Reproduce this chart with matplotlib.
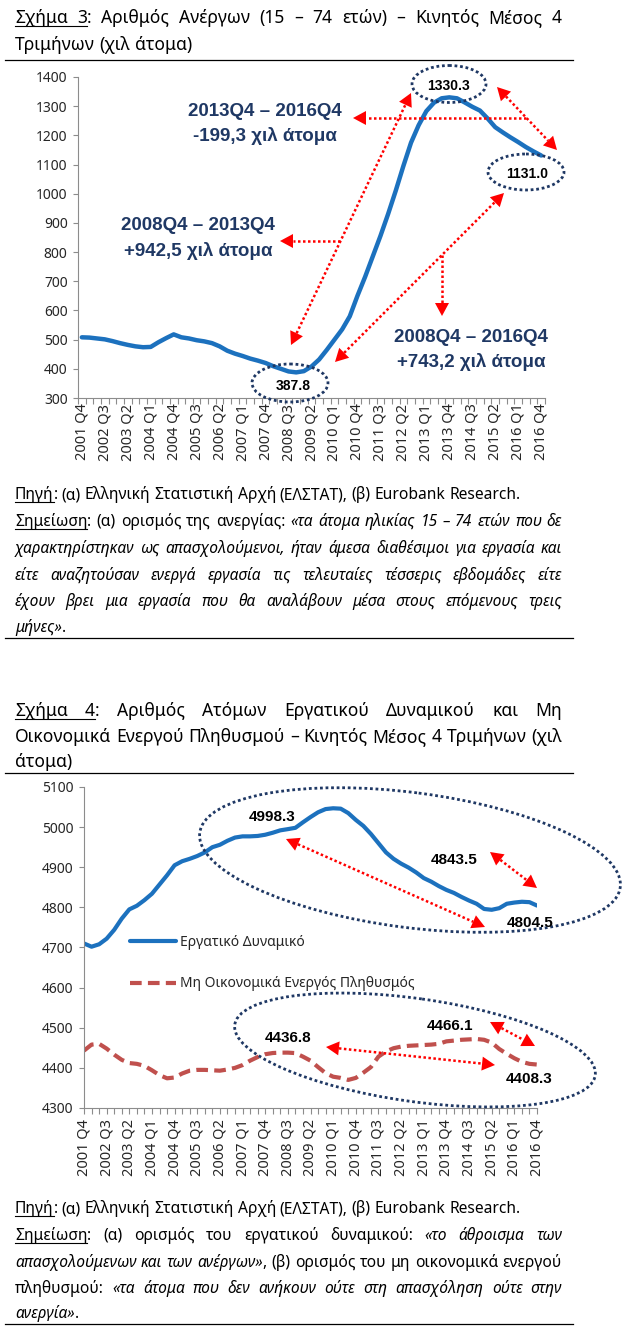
import numpy as np
import matplotlib.pyplot as plt
from matplotlib.patches import Ellipse, Polygon

plt.rcParams['font.family'] = ['Noto Sans', 'DejaVu Sans']
BOLD = ['Liberation Sans', 'DejaVu Sans']

W, H = 632, 1329
BLUE = '#1C71BE'
BROWN = '#C0504D'
RED = '#FF0000'
NAVY = '#1F3864'
GREY = '#8C8C8C'

# x tick labels (every third quarter, 2001 Q4 ... 2016 Q4)
tick_labels = ['2001 Q4', '2002 Q3', '2003 Q2', '2004 Q1', '2004 Q4', '2005 Q3',
               '2006 Q2', '2007 Q1', '2007 Q4', '2008 Q3', '2009 Q2', '2010 Q1',
               '2010 Q4', '2011 Q3', '2012 Q2', '2013 Q1', '2013 Q4', '2014 Q3',
               '2015 Q2', '2016 Q1', '2016 Q4']

# Σχήμα 3: unemployed, 4Q moving average (thousands), 2001Q4 - 2016Q4
unemployed = [508, 507, 504, 501, 495, 488, 482, 477, 474, 475,
              491, 505, 518, 508, 504, 498, 494, 488, 477, 462,
              452, 444, 435, 428, 420, 409, 400, 391, 387.8, 392,
              408, 432, 465, 500, 535, 580, 650, 715, 785, 855,
              930, 1010, 1095, 1175, 1235, 1283, 1312, 1327, 1330.3, 1327,
              1313, 1298, 1285, 1258, 1228, 1210, 1193, 1177, 1160, 1145,
              1131.0]

# Σχήμα 4: labour force and inactive population (thousands)
labour_force = [4710, 4702, 4708, 4722, 4744, 4772, 4795, 4804, 4818, 4834,
                4857, 4880, 4905, 4915, 4921, 4928, 4937, 4950, 4956, 4966,
                4974, 4977, 4977, 4978, 4981, 4986, 4992, 4995, 4998.3, 5012,
                5025, 5037, 5045, 5047, 5046, 5035, 5018, 5003, 4983, 4960,
                4937, 4921, 4909, 4899, 4887, 4873, 4864, 4853, 4843.5, 4836,
                4826, 4817, 4809, 4796, 4794, 4798, 4809, 4812, 4814, 4813,
                4804.5]
inactive = [4443, 4458, 4460, 4448, 4433, 4420, 4412, 4410, 4405, 4394,
            4382, 4374, 4376, 4386, 4393, 4395, 4395, 4394, 4393, 4396,
            4400, 4407, 4418, 4427, 4434, 4437, 4438, 4438, 4436.8, 4428,
            4418, 4402, 4387, 4378, 4375, 4370, 4375, 4388, 4402, 4428,
            4441, 4449, 4453, 4455, 4456, 4457, 4458, 4460, 4466.1, 4468,
            4470, 4471, 4472, 4470, 4463, 4447, 4435, 4424, 4415, 4410,
            4408.3]

fig = plt.figure(figsize=(W / 100, H / 100), dpi=100, facecolor='white')


def rect(l, t, r, b):
    return [l / W, 1 - b / H, (r - l) / W, (b - t) / H]


def style(ax, minor_pos, major_len):
    for s in ['top', 'right']:
        ax.spines[s].set_visible(False)
    for s in ['left', 'bottom']:
        ax.spines[s].set_color(GREY)
        ax.spines[s].set_linewidth(0.8)
    ax.patch.set_alpha(0)
    ax.tick_params(axis='y', length=3.5, width=0.8, color=GREY, labelsize=10,
                   pad=4, labelcolor='#262626')
    ax.tick_params(axis='x', which='major', length=major_len, width=0.8, color=GREY,
                   pad=4, labelsize=10.5, labelcolor='#262626')
    ax.set_xticks(minor_pos, minor=True)
    ax.tick_params(axis='x', which='minor', length=4, width=0.8, color=GREY)


# ---- chart 1
ax1 = fig.add_axes(rect(78, 77, 545, 398))
x1 = np.arange(len(unemployed))
ax1.plot(x1, unemployed, color=BLUE, lw=3.2, solid_capstyle='round', solid_joinstyle='round')
ax1.set_xlim(-0.5, len(unemployed) - 0.5)
ax1.set_ylim(300, 1400)
ax1.set_yticks(range(300, 1401, 100))
ax1.set_xticks(range(0, len(unemployed), 3), tick_labels, rotation=90)
style(ax1, np.arange(-0.5, len(unemployed), 1), 0)

# ---- chart 2
ax2 = fig.add_axes(rect(84, 787, 537, 1108))
x2 = np.arange(len(labour_force))
ax2.plot(x2, labour_force, color=BLUE, lw=3, solid_capstyle='round',
         label='Εργατικό Δυναμικό')
ax2.plot(x2, inactive, color=BROWN, lw=3, dashes=(2.8, 1.5),
         label='Μη Οικονομικά Ενεργός Πληθυσμός')
ax2.set_xlim(0, len(labour_force) - 1)
ax2.set_ylim(4300, 5100)
ax2.set_yticks(range(4300, 5101, 100))
ax2.set_xticks(range(0, len(labour_force), 3), tick_labels, rotation=90)
style(ax2, np.arange(0, len(labour_force), 1), 4)
ax2.legend(loc='upper left', bbox_to_anchor=(130 / W, 1 - 935 / H),
           bbox_transform=fig.transFigure, frameon=False, fontsize=10,
           borderaxespad=0, borderpad=0, handlelength=3.3, handletextpad=0.3,
           labelspacing=1.9, labelcolor='#262626')

# ---- overlay in pixel coordinates for text and drawn shapes
deco = fig.add_axes([0, 0, 1, 1])
deco.set_xlim(0, W)
deco.set_ylim(H, 0)
deco.set_axis_off()
renderer = fig.canvas.get_renderer()


def text_width(s, size, **kw):
    t = deco.text(0, 0, s, fontsize=size, **kw)
    w = t.get_window_extent(renderer).width
    t.remove()
    return w


def parse(markup):
    words, cur, buf = [], [], ''
    ital = und = False
    run = 0
    for ch in markup + ' ':
        if ch in '*_ ':
            if buf:
                cur.append((buf, ital, run if und else None))
                buf = ''
            if ch == '*':
                ital = not ital
            elif ch == '_':
                und = not und
                run += und
            elif cur:
                words.append(cur)
                cur = []
        else:
            buf += ch
    return words


def put_line(y, markup, size, justify=True, x0=15, x1=562):
    words = parse(markup)
    while True:
        widths = [[text_width(p[0], size, style='italic' if p[1] else 'normal') for p in w]
                  for w in words]
        total = sum(map(sum, widths))
        sp = text_width('x x', size) - text_width('xx', size)
        if not justify or len(words) < 2:
            gap = sp
            break
        gap = (x1 - x0 - total) / (len(words) - 1)
        if gap >= 0.6 * sp:
            break
        size *= 0.98
    xx = x0
    runs = {}
    for w, ws in zip(words, widths):
        for (txt, it, r), wp in zip(w, ws):
            deco.text(xx, y, txt, fontsize=size, style='italic' if it else 'normal',
                      ha='left', va='baseline', color='black')
            if r is not None:
                a, b = runs.get(r, (xx, xx + wp))
                runs[r] = (min(a, xx), max(b, xx + wp))
            xx += wp
        xx += gap
    for a, b in runs.values():
        deco.plot([a, b], [y + 2.5, y + 2.5], color='black', lw=0.8)


def rule(y):
    deco.plot([5, 573], [y, y], color='black', lw=0.9)


def arrow(p0, p1, both=True):
    L, hw = 13, 7
    a = np.array(p0, float)
    b = np.array(p1, float)
    u = (b - a) / np.hypot(*(b - a))
    start = a + u * L if both else a
    end = b - u * L
    deco.plot([start[0], end[0]], [start[1], end[1]], color=RED, lw=1.8,
              linestyle=(0, (1, 1)), zorder=6)
    tips = [(b, u)] + ([(a, -u)] if both else [])
    for tip, v in tips:
        base = tip - v * L
        nn = np.array([-v[1], v[0]])
        deco.add_patch(Polygon([tip, base + nn * hw, base - nn * hw], closed=True,
                               fc=RED, ec='none', zorder=6))


def ring(cx, cy, w, h, angle=0):
    deco.add_patch(Ellipse((cx, cy), w, h, angle=angle, fill=False, ec=NAVY, lw=2,
                           linestyle=(0, (1, 1)), zorder=7))


body = 10 * 505 / text_width('Πηγή: (α) Ελληνική Στατιστική Αρχή (ΕΛΣΤΑΤ), (β) Eurobank Research.', 10)
title = 10 * 176 / text_width('Τριμήνων (χιλ άτομα)', 10)

# titles and notes
put_line(23, '_Σχήμα 3_: Αριθμός Ανέργων (15 – 74 ετών) – Κινητός Μέσος 4', title)
put_line(50, 'Τριμήνων (χιλ άτομα)', title, justify=False)
rule(60)

src = '_Πηγή_: (α) Ελληνική Στατιστική Αρχή (ΕΛΣΤΑΤ), (β) Eurobank Research.'
put_line(499, src, body, justify=False)
put_line(526, '_Σημείωση_: (α) ορισμός της ανεργίας: *«τα άτομα ηλικίας 15 – 74 ετών που δε*', body)
put_line(553, '*χαρακτηρίστηκαν ως απασχολούμενοι, ήταν άμεσα διαθέσιμοι για εργασία και*', body)
put_line(580, '*είτε αναζητούσαν ενεργά εργασία τις τελευταίες τέσσερις εβδομάδες είτε*', body)
put_line(606, '*έχουν βρει μια εργασία που θα αναλάβουν μέσα στους επόμενους τρεις*', body)
put_line(632, '*μήνες»*.', body, justify=False)
rule(638)

put_line(716, '_Σχήμα 4_: Αριθμός Ατόμων Εργατικού Δυναμικού και Μη', title)
put_line(742, 'Οικονομικά Ενεργού Πληθυσμού – Κινητός Μέσος 4 Τριμήνων (χιλ', title)
put_line(767, 'άτομα)', title, justify=False)
rule(773)

put_line(1213, src, body, justify=False)
put_line(1240, '_Σημείωση_: (α) ορισμός του εργατικού δυναμικού: *«το άθροισμα των*', body)
put_line(1267, '*απασχολούμενων και των ανέργων»*, (β) ορισμός του μη οικονομικά ενεργού', body)
put_line(1293, 'πληθυσμού: *«τα άτομα που δεν ανήκουν ούτε στη απασχόληση ούτε στην*', body)
put_line(1318, '*ανεργία»*.', body, justify=False)
rule(1324)

# chart 1 annotations
for (cx, cy), lines in [((265, 111), ('2013Q4 – 2016Q4', '-199,3 χιλ άτομα')),
                        ((198, 226), ('2008Q4 – 2013Q4', '+942,5 χιλ άτομα')),
                        ((471, 337), ('2008Q4 – 2016Q4', '+743,2 χιλ άτομα'))]:
    for k, s in enumerate(lines):
        deco.text(cx, cy + 25 * k, s, fontsize=13.5, fontweight='bold', color=NAVY,
                  family=BOLD, ha='center', va='center')

arrow((291, 345), (411, 93))
arrow((340, 241), (280, 241), both=False)
arrow((526, 118), (353, 118), both=False)
arrow((497, 87), (557, 150))
arrow((335, 362), (504, 193))
arrow((442, 255), (442, 316), both=False)

for (cx, cy), s in [((449, 86), '1330.3'), ((527, 174), '1131.0'), ((293, 386), '387.8')]:
    deco.text(cx, cy, s, fontsize=10, fontweight='bold', color='black', family=BOLD,
              ha='center', va='center', zorder=8)
ring(449, 84, 74, 37)
ring(526, 172, 76, 36)
ring(290, 383, 76, 38)

# chart 2 annotations
ring(410, 860, 424, 135, 7.4)
ring(415, 1050, 364, 103, 8)
arrow((286, 839), (485, 927))
arrow((490, 852), (537, 888))
arrow((326, 1047), (495, 1065))
arrow((490, 1022), (535, 1046))
for (cx, cy), s in [((272, 817), '4998.3'), ((454, 860), '4843.5'), ((530, 923), '4804.5'),
                    ((288, 1038), '4436.8'), ((450, 1026), '4466.1'), ((529, 1079), '4408.3')]:
    deco.text(cx, cy, s, fontsize=11, fontweight='bold', color='black', family=BOLD,
              ha='center', va='center', zorder=8)

fig.savefig('out.png', dpi=100)
